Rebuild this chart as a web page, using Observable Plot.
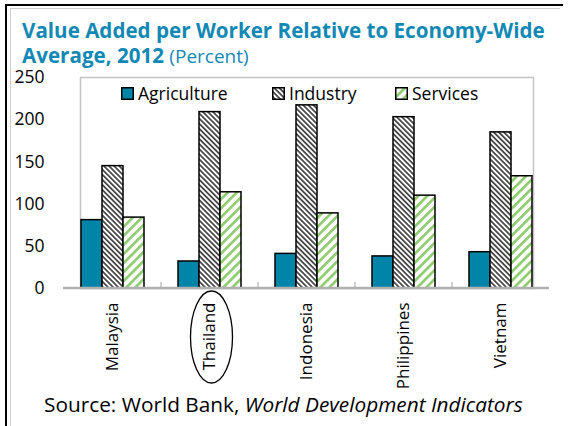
<!DOCTYPE html>
<html>
<head>
<meta charset="utf-8">
<script src="https://cdn.jsdelivr.net/npm/d3@7"></script>
<script src="https://cdn.jsdelivr.net/npm/@observablehq/plot@0.6"></script>
<style>
  html, body { margin: 0; padding: 0; background: #fff; }
  #wrap { position: relative; width: 568px; height: 426px; overflow: hidden; font-family: "Open Sans", sans-serif; background: #fff; }
  #outer { position: absolute; left: 5px; top: 4px; width: 558px; height: 430px; border-top: 2px solid #000; border-left: 2px solid #000; box-sizing: border-box; }
  #inner { position: absolute; left: 10px; top: 8px; width: 550px; height: 430px; border-top: 1px solid #cfcfcf; border-left: 1px solid #cfcfcf; box-sizing: border-box; }
  #title { position: absolute; left: 22px; top: 18px; width: 545px; font-size: 20.6px; line-height: 25px; font-weight: 700; color: #1288b4; white-space: nowrap; }
  #title .unit { font-weight: 400; font-size: 19px; }
  #chart { position: absolute; left: 0; top: 60px; }
  #legend { position: absolute; top: 81px; left: 0; font-size: 17.5px; color: #000; }
  .item { position: absolute; display: flex; align-items: center; white-space: nowrap; top: 0; }
  .item svg { margin-right: 4px; }
  #source { position: absolute; left: 44px; top: 392px; font-size: 20.8px; line-height: 24px; color: #000; white-space: nowrap; }
</style>
</head>
<body>
<div id="wrap">
  <div id="outer"></div>
  <div id="inner"></div>
  <div id="title">Value Added per Worker Relative to Economy-Wide<br>Average, 2012 <span class="unit">(Percent)</span></div>
  <div id="chart"></div>
  <div id="legend"></div>
  <div id="source">Source: World Bank, <i>World Development Indicators</i></div>
</div>
<script>
// ---- data ----
const countries = ["Malaysia", "Thailand", "Indonesia", "Philippines", "Vietnam"];
const seriesNames = ["Agriculture", "Industry", "Services"];
const agriculture = [81, 32, 41, 38, 43];
const industry = [145, 209, 217, 203, 185];
const services = [84, 114, 89, 110, 133];
const yTicks = [0, 50, 100, 150, 200, 250];
const highlighted = "Thailand";

// ---- styles ----
const teal = "#0085a9";
const green = "#8ccb6b";
const fills = {Agriculture: teal, Industry: "url(#patInd)", Services: "url(#patSrv)"};

const valuesBySeries = {Agriculture: agriculture, Industry: industry, Services: services};
const rows = [];
for (const s of seriesNames) countries.forEach((c, i) => rows.push({country: c, series: s, value: valuesBySeries[s][i]}));

const W = 568, H = 320;
const plot = Plot.plot({
  width: W,
  height: H,
  marginLeft: 63,
  marginRight: 19,
  marginTop: 17,
  marginBottom: 92,
  style: {fontFamily: "Open Sans, sans-serif", fontSize: "17px", color: "#000", background: "transparent", overflow: "visible"},
  fx: {domain: countries, paddingInner: 0.33, paddingOuter: 0.165, label: null, tickRotate: -90, tickSize: 0, tickPadding: 14},
  x: {domain: seriesNames, padding: 0, axis: null},
  y: {domain: [0, 250], label: null, ticks: yTicks, tickSize: 0, tickPadding: 36},
  marks: [
    Plot.frame({facet: "super", stroke: "#c4c4c4", strokeWidth: 1.5}),
    ...seriesNames.map(s => Plot.barY(rows.filter(d => d.series === s), {
      fx: "country", x: "series", y: "value",
      fill: fills[s], stroke: "#000", strokeWidth: 1.5
    }))
  ]
});

// y tick labels slightly larger than the category labels
d3.select(plot).selectAll("[aria-label='y-axis tick label'] text").style("font-size", "17.5px");

// pattern definitions
const svg = d3.select(plot);
const defs = svg.insert("defs", ":first-child");
function addPatterns(defs, suffix) {
  const pi = defs.append("pattern").attr("id", "patInd" + suffix).attr("patternUnits", "userSpaceOnUse")
    .attr("width", 3.6).attr("height", 3.6).attr("patternTransform", "rotate(-45)");
  pi.append("rect").attr("width", 3.6).attr("height", 3.6).attr("fill", "#fff");
  pi.append("line").attr("x1", 0.9).attr("x2", 0.9).attr("y1", 0).attr("y2", 3.6).attr("stroke", "#333").attr("stroke-width", 1.6);
  const ps = defs.append("pattern").attr("id", "patSrv" + suffix).attr("patternUnits", "userSpaceOnUse")
    .attr("width", 6.4).attr("height", 6.4).attr("patternTransform", "rotate(45)");
  ps.append("rect").attr("width", 6.4).attr("height", 6.4).attr("fill", "#fff");
  ps.append("line").attr("x1", 1.3).attr("x2", 1.3).attr("y1", 0).attr("y2", 6.4).attr("stroke", green).attr("stroke-width", 2.6);
}
addPatterns(defs, "");

// baseline, category boundary ticks and highlight ellipse from the library's scales
const fx = plot.scale("fx"), y = plot.scale("y");
const y0 = y.apply(0);
const step = fx.step, bw = fx.bandwidth;
const [rx0, rx1] = fx.range;
const g = svg.append("g");
g.append("line").attr("x1", rx0).attr("x2", rx1).attr("y1", y0).attr("y2", y0).attr("stroke", "#b0b0b0").attr("stroke-width", 2.5);
countries.slice(0, -1).forEach(c => {
  const xb = fx.apply(c) + bw + (step - bw) / 2;
  g.append("line").attr("x1", xb).attr("x2", xb).attr("y1", y0 - 6).attr("y2", y0).attr("stroke", "#b0b0b0").attr("stroke-width", 1.2);
});
const cx = fx.apply(highlighted) + bw / 2;
g.append("ellipse").attr("cx", cx + 2).attr("cy", y0 + 49).attr("rx", 21).attr("ry", 46)
  .attr("fill", "none").attr("stroke", "#000").attr("stroke-width", 1.3);

document.getElementById("chart").appendChild(plot);

// legend
const legendX = {Agriculture: 121, Industry: 272, Services: 395};
const legend = document.getElementById("legend");
seriesNames.forEach((s, i) => {
  const item = document.createElement("div");
  item.className = "item";
  item.style.left = legendX[s] + "px";
  const sw = d3.create("svg").attr("width", 13).attr("height", 13);
  const d2 = sw.append("defs");
  addPatterns(d2, "L" + i);
  const f = s === "Agriculture" ? teal : (s === "Industry" ? "url(#patIndL" + i + ")" : "url(#patSrvL" + i + ")");
  sw.append("rect").attr("x", 0.75).attr("y", 0.75).attr("width", 11.5).attr("height", 11.5).attr("fill", f).attr("stroke", "#000").attr("stroke-width", 1.5);
  item.appendChild(sw.node());
  const t = document.createElement("span");
  t.textContent = s;
  item.appendChild(t);
  legend.appendChild(item);
});
</script>
</body>
</html>
